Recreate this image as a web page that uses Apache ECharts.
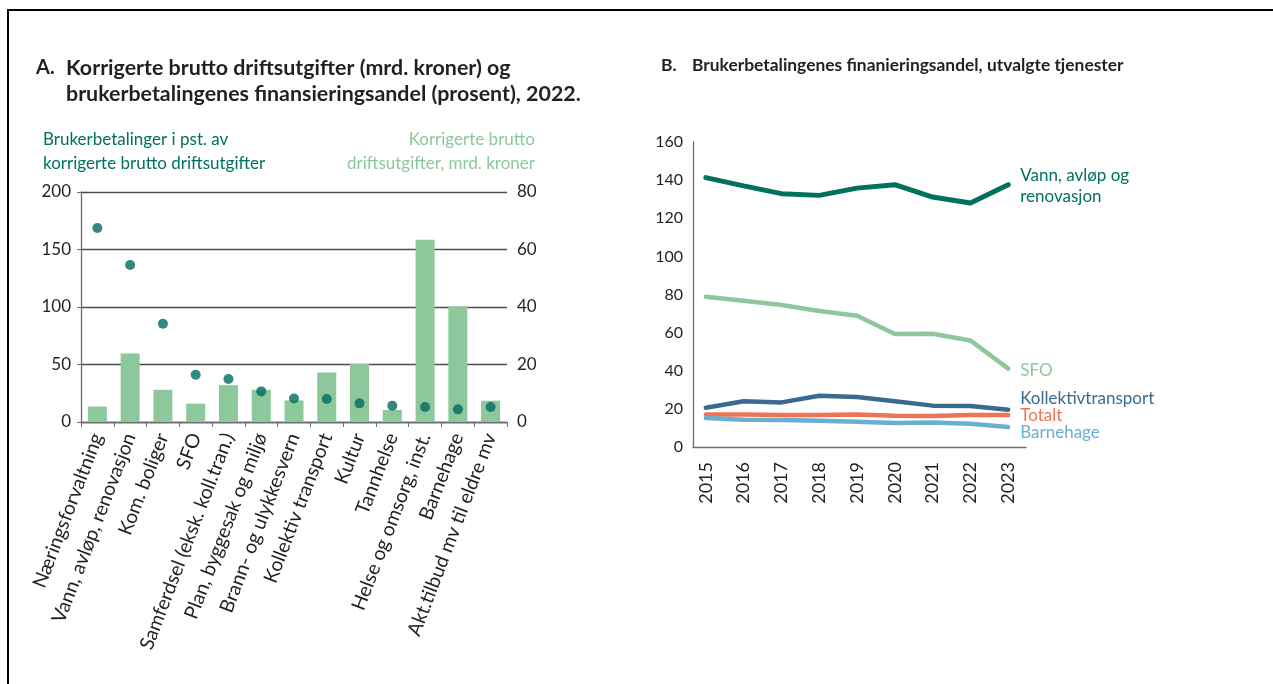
<!DOCTYPE html>
<html>
<head>
<meta charset="utf-8">
<script src="https://cdn.jsdelivr.net/npm/echarts@6/dist/echarts.min.js"></script>
<style>
    html, body { margin: 0; padding: 0; background: #fff; }
    #chart { width: 1273px; height: 684px; }
</style>
</head>
<body>
<div id="chart"></div>
<script>
// Panel A: tjenester, 2022
const categories = ['Næringsforvaltning', 'Vann, avløp, renovasjon', 'Kom. boliger', 'SFO',
    'Samferdsel (eksk. koll.tran.)', 'Plan, byggesak og miljø', 'Brann- og ulykkesvern',
    'Kollektiv transport', 'Kultur', 'Tannhelse', 'Helse og omsorg, inst.', 'Barnehage',
    'Akt.tilbud mv til eldre mv'];
// korrigerte brutto driftsutgifter, mrd. kroner (høyre akse)
const driftsutgifter = [5.4, 23.8, 11.2, 6.4, 12.8, 11.2, 7.5, 17.2, 20.2, 4.2, 63.4, 40.2, 7.4];
// brukerbetalinger i pst. av korrigerte brutto driftsutgifter (venstre akse)
const brukerandel = [168.7, 136.5, 85.5, 41.1, 37.4, 26.6, 20.5, 20, 16.2, 14.2, 13, 11, 13];

// Panel B: finansieringsandel over tid
const years = [2015, 2016, 2017, 2018, 2019, 2020, 2021, 2022, 2023];
const vann = [141.3, 137, 132.9, 132, 135.8, 137.6, 131.1, 128, 137.6];
const sfo = [78.8, 76.7, 74.5, 71.3, 68.9, 59.3, 59.4, 55.9, 41.1];
const kollektiv = [20.6, 24, 23.4, 26.9, 26.2, 24, 21.7, 21.5, 19.6];
const totalt = [17, 17, 16.8, 16.8, 17, 16.4, 16.3, 16.8, 16.8];
const barnehage = [15.2, 14.3, 14.2, 13.8, 13.3, 12.6, 12.8, 12.2, 10.5];

const FONT = 'Lato';
const TEXT = '#231f20';
const AXIS = '#6d6e70';
const C_TEAL = '#00705f';
const C_GREEN = '#8cc89b';
const C_BLUE = '#3a6a8f';
const C_RED = '#ee7357';
const C_LIGHTBLUE = '#6aafcf';

const chart = echarts.init(document.getElementById('chart'));

function lineSeries(name, values, color, width, label, offset) {
    return {
        name: name,
        type: 'line',
        xAxisIndex: 1,
        yAxisIndex: 2,
        data: years.map((y, i) => [y, values[i]]),
        symbol: 'none',
        lineStyle: { color: color, width: width, cap: 'round' },
        endLabel: {
            show: true,
            formatter: label,
            color: color,
            fontFamily: FONT,
            fontSize: 17,
            lineHeight: 21,
            distance: 0,
            offset: offset
        },
        z: 3
    };
}

const option = {
    backgroundColor: '#fff',
    animation: false,
    textStyle: { fontFamily: FONT, color: TEXT },
    graphic: [
        // ramme
        { type: 'line', shape: { x1: 7, y1: 10, x2: 1273, y2: 10 }, style: { stroke: '#000', lineWidth: 2 } },
        { type: 'line', shape: { x1: 8, y1: 10, x2: 8, y2: 684 }, style: { stroke: '#000', lineWidth: 2 } },
        // titler
        { type: 'text', x: 36, y: 68, style: { text: 'A.', font: 'bold 20px ' + FONT, fill: TEXT, verticalAlign: 'middle' } },
        { type: 'text', x: 66, y: 81, style: { text: 'Korrigerte brutto driftsutgifter (mrd. kroner) og\nbrukerbetalingenes finansieringsandel (prosent), 2022.', font: 'bold 21.4px ' + FONT, fill: TEXT, lineHeight: 26, verticalAlign: 'middle' } },
        { type: 'text', x: 661, y: 65, style: { text: 'B.', font: 'bold 17.5px ' + FONT, fill: TEXT, verticalAlign: 'middle' } },
        { type: 'text', x: 692, y: 65, style: { text: 'Brukerbetalingenes finanieringsandel, utvalgte tjenester', font: 'bold 17.4px ' + FONT, fill: TEXT, verticalAlign: 'middle' } },
        // aksetitler panel A
        { type: 'text', x: 43, y: 152, style: { text: 'Brukerbetalinger i pst. av\nkorrigerte brutto driftsutgifter', font: '17px ' + FONT, fill: C_TEAL, lineHeight: 24, verticalAlign: 'middle' } },
        { type: 'text', x: 535, y: 152, style: { text: 'Korrigerte brutto\ndriftsutgifter, mrd. kroner', font: '17px ' + FONT, fill: C_GREEN, lineHeight: 24, align: 'right', verticalAlign: 'middle' } }
    ],
    grid: [
        { left: 81, right: 766, top: 192, bottom: 262 },
        { left: 693, right: 247, top: 142, bottom: 237 }
    ],
    xAxis: [
        {
            gridIndex: 0,
            type: 'category',
            data: categories,
            axisLine: { lineStyle: { color: AXIS, width: 1.3 } },
            axisTick: { show: true, length: 5, lineStyle: { color: AXIS } },
            axisLabel: { rotate: 69, interval: 0, fontSize: 19.5, color: TEXT, margin: 12 }
        },
        {
            gridIndex: 1,
            type: 'value',
            min: 2014.66,
            max: 2023.47,
            splitLine: { show: false },
            axisLine: { show: true, onZero: false, lineStyle: { color: AXIS, width: 1.3 } },
            axisTick: { show: false },
            axisLabel: {
                customValues: years,
                rotate: 90,
                fontSize: 18,
                color: TEXT,
                margin: 15,
                formatter: v => String(v)
            }
        }
    ],
    yAxis: [
        {
            gridIndex: 0,
            type: 'value',
            min: 0, max: 200, interval: 50,
            axisLine: { show: true, lineStyle: { color: AXIS, width: 1.3 } },
            axisTick: { show: true, length: 4, lineStyle: { color: AXIS } },
            splitLine: { lineStyle: { color: '#4d4d4f', width: 1.3 } },
            axisLabel: { fontSize: 17, color: TEXT, margin: 10 }
        },
        {
            gridIndex: 0,
            type: 'value',
            position: 'right',
            min: 0, max: 80, interval: 20,
            axisLine: { show: false },
            axisTick: { show: false },
            splitLine: { show: false },
            axisLabel: { fontSize: 17, color: TEXT, margin: 10 }
        },
        {
            gridIndex: 1,
            type: 'value',
            min: 0, max: 160, interval: 20,
            axisLine: { show: true, lineStyle: { color: AXIS, width: 1.3 } },
            axisTick: { show: false },
            splitLine: { show: false },
            axisLabel: { fontSize: 16, color: TEXT, margin: 10 }
        }
    ],
    series: [
        {
            name: 'Korrigerte brutto driftsutgifter',
            type: 'bar',
            xAxisIndex: 0,
            yAxisIndex: 1,
            data: driftsutgifter,
            barWidth: '58%',
            itemStyle: { color: C_GREEN },
            z: 2
        },
        {
            name: 'Brukerbetalinger i pst.',
            type: 'scatter',
            xAxisIndex: 0,
            yAxisIndex: 0,
            data: brukerandel,
            symbolSize: 10,
            itemStyle: { color: '#006b5f' },
            z: 4
        },
        lineSeries('Totalt', totalt, C_RED, 4.5, 'Totalt', [12, 1]),
        lineSeries('Barnehage', barnehage, C_LIGHTBLUE, 4.5, 'Barnehage', [12, 6]),
        lineSeries('Kollektivtransport', kollektiv, C_BLUE, 4.5, 'Kollektivtransport', [12, -11]),
        lineSeries('SFO', sfo, C_GREEN, 4.5, 'SFO', [12, 2]),
        lineSeries('Vann, avløp og renovasjon', vann, C_TEAL, 5, 'Vann, avløp og\nrenovasjon', [12, 1])
    ]
};

chart.setOption(option);

window.addEventListener('resize', function() {
    chart.resize();
});
</script>
</body>
</html>
